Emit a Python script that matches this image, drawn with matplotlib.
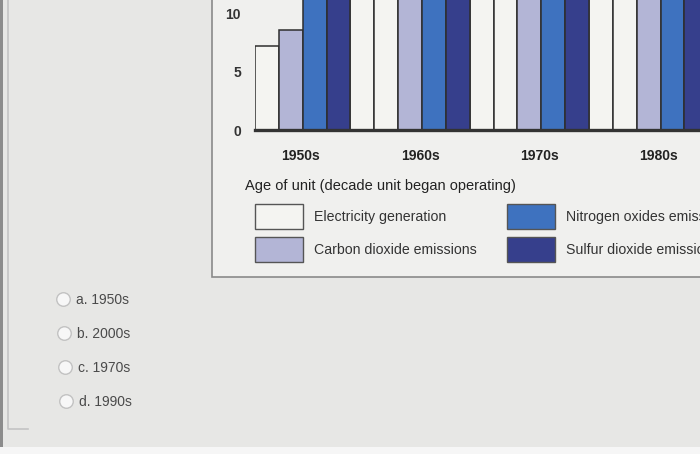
import matplotlib
matplotlib.use("Agg")
import matplotlib.pyplot as plt
import matplotlib.transforms as mtransforms
import numpy as np
from matplotlib.patches import Rectangle, Patch

plt.rcParams['font.family'] = ['Liberation Sans', 'DejaVu Sans']

# data (bars above ~11 are cut off by the crop)
decades = ["1950s", "1960s", "1970s", "1980s"]
series = ["Capacity", "Electricity generation", "Carbon dioxide emissions",
          "Nitrogen oxides emissions", "Sulfur dioxide emissions"]
capacity = [6.5, 20, 31, 33]
electricity = [7.2, 19, 32, 36]
co2 = [8.6, 20, 33, 35]
nox = [14, 22, 34, 30]
so2 = [16, 26, 37, 28]
yticks = [0, 5, 10]
options = ["a. 1950s", "b. 2000s", "c. 1970s", "d. 1990s"]

colors = ["#f4f4f1", "#f4f4f1", "#b3b5d6", "#3e72bf", "#363f8c"]
W, H = 700, 454

fig = plt.figure(figsize=(7, 4.54), dpi=100, facecolor="#e7e7e5")

# page background drawn in pixel coords
bg = fig.add_axes([0, 0, 1, 1], zorder=-5)
bg.set_xlim(0, W)
bg.set_ylim(H, 0)
bg.axis("off")
bg.add_patch(Rectangle((212, -5), 500, 282, facecolor="#f0f0ee",
                       edgecolor="#8a8a8a", lw=1.2))
bg.add_patch(Rectangle((0, -5), 3, 460, facecolor="#8c8c8c", lw=0))
bg.plot([8, 8, 28], [-5, 429, 429], color="#c4c4c4", lw=1.2)
bg.add_patch(Rectangle((0, 447), W, 10, facecolor="#f6f6f6", lw=0))

# radio-button answers
for i, opt in enumerate(options):
    y = 299 + i * 34
    bg.scatter([63 + i], [y], s=95, facecolor="#f7f7f7", edgecolor="#c2c2c2",
               lw=1.0, zorder=3)
    bg.text(76 + i, y + 1, opt, fontsize=10, color="#4a4a4a", va="center")

# chart
ax = fig.add_axes([255 / W, 1 - 130 / H, 1 - 255 / W, 130 / H])
ax.set_facecolor("none")
vals = [capacity, electricity, co2, nox, so2]
x = np.arange(len(decades))
bw = 0.2
for j, (name, v) in enumerate(zip(series, vals)):
    ax.bar(x + (j - 2) * bw, v, bw, color=colors[j], edgecolor="#2e2e2e",
           lw=1.1, label=name)

ax.set_xlim(-0.3, 3.43)
ax.set_ylim(0, 11.2)
ax.set_yticks(yticks)
ax.set_xticks(x)
ax.set_xticklabels(decades, fontsize=10, fontweight="bold", color="#222")
ax.set_yticklabels([str(t) for t in yticks], fontweight="bold")
ax.tick_params(axis="y", length=0, pad=10, labelsize=10, labelcolor="#333")
ax.tick_params(axis="x", length=0, pad=14)
shift = mtransforms.ScaledTranslation(10 / 100, 0, fig.dpi_scale_trans)
for lbl in ax.get_xticklabels():
    lbl.set_transform(lbl.get_transform() + shift)
for sp in ["top", "right", "left"]:
    ax.spines[sp].set_visible(False)
ax.spines["bottom"].set_linewidth(2.4)
ax.spines["bottom"].set_color("#333333")

fig.text(245 / W, 1 - 186 / H, "Age of unit (decade unit began operating)",
         fontsize=10.5, color="#222", va="center")

handles = [Patch(facecolor=colors[j], edgecolor="#555", lw=1.0) for j in [1, 2, 3, 4, 0]]
labels = [series[j] for j in [1, 2, 3, 4, 0]]
fig.legend(handles, labels, ncol=3, loc="upper left",
           bbox_to_anchor=(255 / W, 1 - 204 / H), frameon=False, fontsize=10.2,
           handlelength=3.38, handleheight=2.36, handletextpad=0.77,
           columnspacing=2.15, labelspacing=0.56, borderpad=0, borderaxespad=0,
           labelcolor="#333")

fig.savefig("out.png", dpi=100, facecolor=fig.get_facecolor())
